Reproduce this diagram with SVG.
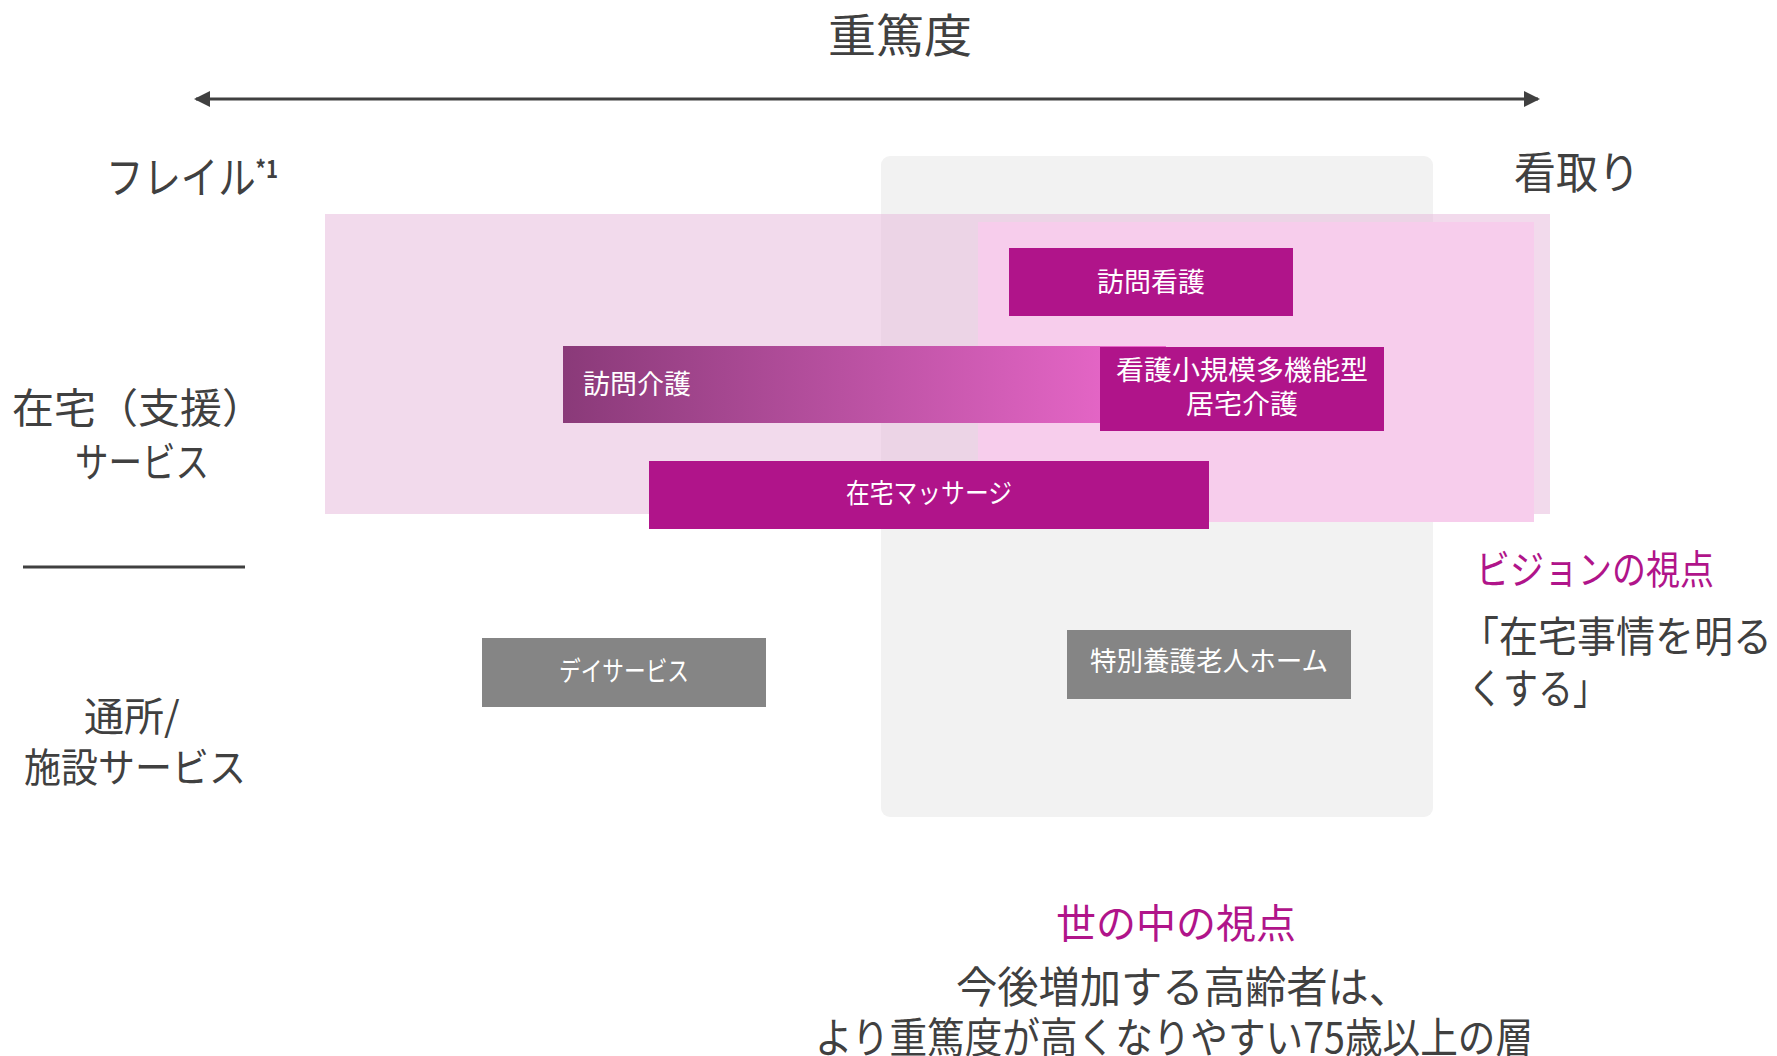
<svg xmlns="http://www.w3.org/2000/svg" width="1777" height="1056" viewBox="0 0 1777 1056">
<style>
text{font-family:"Noto Sans CJK JP","Noto Sans",sans-serif;dominant-baseline:central}
.dk{fill:#404040}
.mg{fill:#B0148A}
.wt{fill:#FFFFFF;font-size:27px}
.box{fill:#B0148A}
.gbox{fill:#858585}
</style>
<defs>
<marker id="ah" viewBox="0 0 16 16" refX="14" refY="8" markerWidth="16" markerHeight="16" markerUnits="userSpaceOnUse" orient="auto-start-reverse">
<path d="M0,0 L16,8 L0,16 Z" fill="#404040"/>
</marker>
<linearGradient id="gr" x1="0" y1="0" x2="1" y2="0">
<stop offset="0" stop-color="#8A3A79"/>
<stop offset="1" stop-color="#EE6ACE"/>
</linearGradient>
</defs>
<rect width="1777" height="1056" fill="#FFFFFF"/>

<g id="axis">
<text class="dk" x="900" y="32" font-size="46" text-anchor="middle" textLength="144" lengthAdjust="spacingAndGlyphs">重篤度</text>
<text class="dk" x="106" y="175" font-size="44" textLength="172" lengthAdjust="spacingAndGlyphs">フレイル<tspan font-size="24" font-weight="bold" dy="-8">*1</tspan></text>
<text class="dk" x="1514" y="170" font-size="44" textLength="126" lengthAdjust="spacingAndGlyphs">看取り</text>
</g>

<g id="connectors">
<line x1="196" y1="99" x2="1538" y2="99" stroke="#404040" stroke-width="3" marker-start="url(#ah)" marker-end="url(#ah)"/>
<line x1="23" y1="567" x2="245" y2="567" stroke="#404040" stroke-width="3"/>
</g>

<g id="row-labels">
<text class="dk" x="12" y="405" font-size="41" textLength="252" lengthAdjust="spacingAndGlyphs">在宅（支援）</text>
<text class="dk" x="75" y="459" font-size="41" textLength="134" lengthAdjust="spacingAndGlyphs">サービス</text>
<text class="dk" x="84" y="714" font-size="40">通所/</text>
<text class="dk" x="24" y="765" font-size="40" textLength="222" lengthAdjust="spacingAndGlyphs">施設サービス</text>
</g>

<g id="world-area">
<rect x="881" y="156" width="552" height="661" rx="9" fill="#F2F2F2"/>
</g>

<g id="home-area">
<rect x="325" y="214" width="1225" height="300" fill="rgb(229,181,217)" fill-opacity="0.5"/>
</g>

<g id="vision-area">
<rect x="978" y="222" width="556" height="300" fill="#F7CDEC"/>
</g>

<g id="houmon-kaigo">
<rect x="563" y="346" width="603" height="77" fill="url(#gr)"/>
<text class="wt" x="583" y="382">訪問介護</text>
</g>

<g id="houmon-kango">
<rect class="box" x="1009" y="248" width="284" height="68"/>
<text class="wt" x="1151" y="280" text-anchor="middle">訪問看護</text>
</g>

<g id="kantaki">
<rect class="box" x="1100" y="347" width="284" height="84"/>
<text class="wt" x="1242" y="368" text-anchor="middle" font-size="26" textLength="252" lengthAdjust="spacingAndGlyphs">看護小規模多機能型</text>
<text class="wt" x="1242" y="402" text-anchor="middle" font-size="26" textLength="112" lengthAdjust="spacingAndGlyphs">居宅介護</text>
</g>

<g id="zaitaku-massage">
<rect class="box" x="649" y="461" width="560" height="68"/>
<text class="wt" x="929" y="491" text-anchor="middle" textLength="166" lengthAdjust="spacingAndGlyphs">在宅マッサージ</text>
</g>

<g id="day-service">
<rect class="gbox" x="482" y="638" width="284" height="69"/>
<text class="wt" x="624" y="669" text-anchor="middle" textLength="130" lengthAdjust="spacingAndGlyphs">デイサービス</text>
</g>

<g id="tokuyou">
<rect class="gbox" x="1067" y="630" width="284" height="69"/>
<text class="wt" x="1209" y="659" text-anchor="middle" textLength="238" lengthAdjust="spacingAndGlyphs">特別養護老人ホーム</text>
</g>

<g id="vision-note">
<text class="mg" x="1476" y="567" font-size="40" textLength="238" lengthAdjust="spacingAndGlyphs">ビジョンの視点</text>
<text class="dk" x="1460" y="633" font-size="42" textLength="312" lengthAdjust="spacingAndGlyphs">「在宅事情を明る</text>
<text class="dk" x="1468" y="685" font-size="42" textLength="140" lengthAdjust="spacingAndGlyphs">くする」</text>
</g>

<g id="world-note">
<text class="mg" x="1176" y="921" font-size="40" text-anchor="middle">世の中の視点</text>
<text class="dk" x="956" y="984" font-size="43" textLength="454" lengthAdjust="spacingAndGlyphs">今後増加する高齢者は、</text>
<text class="dk" x="815" y="1034" font-size="42" textLength="718" lengthAdjust="spacingAndGlyphs">より重篤度が高くなりやすい75歳以上の層</text>
</g>
</svg>
